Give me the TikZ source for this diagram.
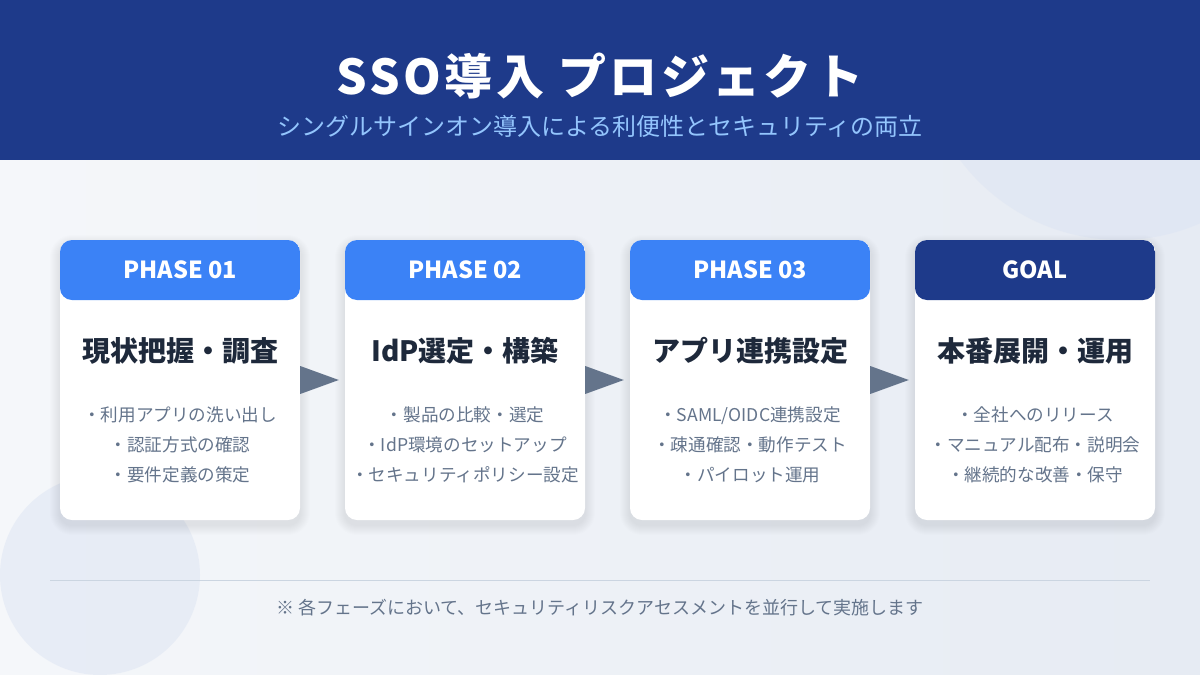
\documentclass[tikz,border=0pt]{standalone}
\usepackage{fontspec}
\setmainfont{Noto Sans CJK JP}
\newfontfamily\titlefont[LetterSpace=7]{Noto Sans CJK JP}
\usetikzlibrary{positioning,calc}

\definecolor{navy}{HTML}{1E3A8A}
\definecolor{phaseblue}{HTML}{3B82F6}
\definecolor{skyblue}{HTML}{93C5FD}
\definecolor{ink}{HTML}{1E293B}
\definecolor{slate}{HTML}{64748B}
\definecolor{rule}{HTML}{CBD5E1}
\definecolor{bgA}{HTML}{F5F7FA}
\definecolor{bgB}{HTML}{E6EBF3}
\definecolor{blob}{HTML}{DCE4F3}

\begin{document}
\begin{tikzpicture}[x=1pt, y=-1pt,
    card/.style={fill=white, rounded corners=12pt, minimum width=240pt, minimum height=280pt,
      path picture={\fill[#1] (path picture bounding box.north west)
        rectangle ([yshift=-60pt]path picture bounding box.north east);}},
    card/.default=phaseblue,
    softshadow/.style={fill=black, opacity=0.009},
    phasehead/.style={text=white, font=\fontsize{23.5}{26}\selectfont\bfseries},
    cardtitle/.style={text=ink, font=\fontsize{28}{32}\selectfont\bfseries},
    bullets/.style={text=slate, align=center, font=\fontsize{17.6}{30}\selectfont},
    arrowtri/.style={fill=slate}]

    \useasboundingbox (0,0) rectangle (1200,675);
    \shade[shading=axis, shading angle=60, left color=bgA, right color=bgB] (0,0) rectangle (1200,675);
    \fill[blob, opacity=0.5] (1120,40) circle (200pt);
    \fill[blob, opacity=0.5] (100,575) circle (100pt);

    % header
    \fill[navy] (0,0) rectangle (1200,160);
    \node[text=white, font=\titlefont\fontsize{48}{54}\selectfont\bfseries] (title) at (600,76) {SSO導入 プロジェクト};
    \node[text=skyblue, font=\fontsize{24}{28}\selectfont] (subtitle) at (600,126) {シングルサインオン導入による利便性とセキュリティの両立};

    % phases
    \coordinate (c1) at (180,380);
    \coordinate (c2) at (465,380);
    \coordinate (c3) at (750,380);
    \coordinate (c4) at (1035,380);
    \foreach \c in {c1,c2,c3,c4}
      \foreach \s in {1,...,10}
        \fill[softshadow, rounded corners={(12+\s)*1pt}] ($(\c)+(-120-\s,-140-\s+5)$) rectangle ($(\c)+(120+\s,140+\s+5)$);

    \node[card] (p1) at (c1) {};
    \node[card] (p2) at (c2) {};
    \node[card] (p3) at (c3) {};
    \node[card=navy] (p4) at (c4) {};

    \node[phasehead] (h1) at ([yshift=-30pt]p1.north) {PHASE 01};
    \node[phasehead] (h2) at ([yshift=-30pt]p2.north) {PHASE 02};
    \node[phasehead] (h3) at ([yshift=-30pt]p3.north) {PHASE 03};
    \node[phasehead] (h4) at ([yshift=-30pt]p4.north) {GOAL};

    \node[cardtitle] (t1) at ([yshift=-111pt]p1.north) {現状把握・調査};
    \node[cardtitle] (t2) at ([yshift=-111pt]p2.north) {IdP選定・構築};
    \node[cardtitle] (t3) at ([yshift=-111pt]p3.north) {アプリ連携設定};
    \node[cardtitle] (t4) at ([yshift=-111pt]p4.north) {本番展開・運用};

    \node[bullets] (b1) at ([yshift=-205pt]p1.north) {・利用アプリの洗い出し\\・認証方式の確認\\・要件定義の策定};
    \node[bullets] (b2) at ([yshift=-205pt]p2.north) {・製品の比較・選定\\・IdP環境のセットアップ\\・セキュリティポリシー設定};
    \node[bullets] (b3) at ([yshift=-205pt]p3.north) {・SAML/OIDC連携設定\\・疎通確認・動作テスト\\・パイロット運用};
    \node[bullets] (b4) at ([yshift=-205pt]p4.north) {・全社へのリリース\\・マニュアル配布・説明会\\・継続的な改善・保守};

    \fill[arrowtri] ([yshift=14pt]p1.east) -- ([xshift=-6pt]p2.west) -- ([yshift=-14pt]p1.east) -- cycle;
    \fill[arrowtri] ([yshift=14pt]p2.east) -- ([xshift=-6pt]p3.west) -- ([yshift=-14pt]p2.east) -- cycle;
    \fill[arrowtri] ([yshift=14pt]p3.east) -- ([xshift=-6pt]p4.west) -- ([yshift=-14pt]p3.east) -- cycle;

    % footer
    \draw[rule, line width=1pt] (50,580) -- (1150,580);
    \node[text=slate, font=\fontsize{18}{21}\selectfont] (note) at (600,608) {※ 各フェーズにおいて、セキュリティリスクアセスメントを並行して実施します};
\end{tikzpicture}
\end{document}
